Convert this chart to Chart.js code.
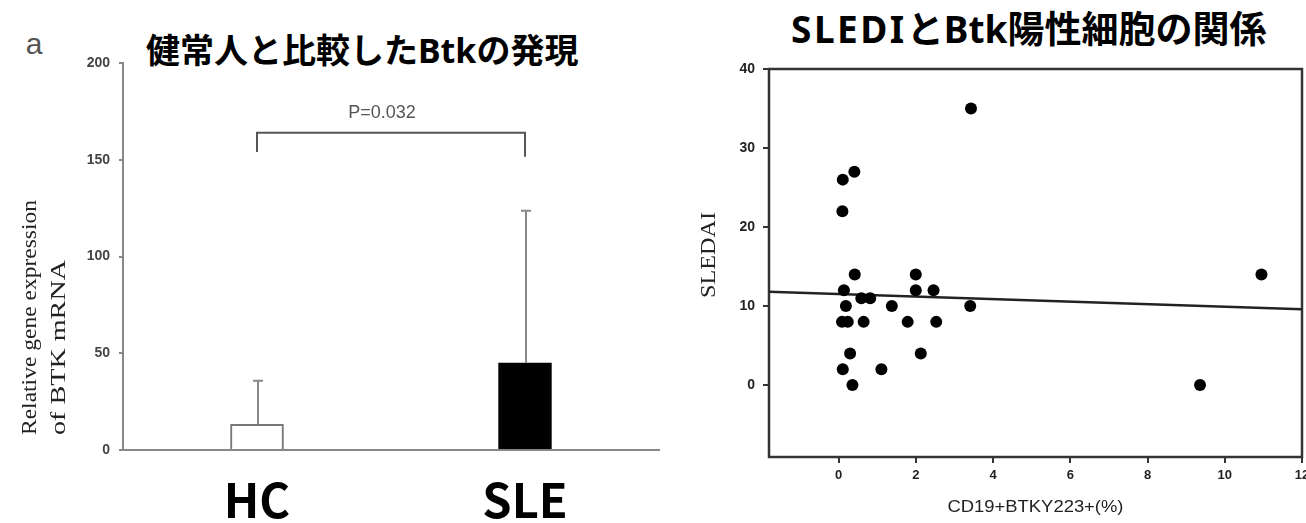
<!DOCTYPE html>
<html>
<head>
<meta charset="utf-8">
<script src="https://cdn.jsdelivr.net/npm/chart.js@4.4.1/dist/chart.umd.min.js"></script>
<style>
  html, body { margin: 0; padding: 0; background: #fff; overflow: hidden; }
  #wrap { position: relative; width: 1306px; height: 523px; overflow: hidden; background: #fff; }
  .ttl { position: absolute; font-family: "Noto Sans", "Noto Sans CJK JP", sans-serif; font-weight: 700;
         color: #000; white-space: nowrap; line-height: 1; transform: translateY(-50%); }
  .ttl .lat { letter-spacing: 2.5px; }
  .tag { position: absolute; font-family: "Liberation Sans", Arial, sans-serif; color: #555;
         line-height: 1; transform: translate(-50%, -50%); }
  canvas { position: absolute; top: 0; }
  #cA { left: 0; }
  #cB { left: 690px; }
</style>
</head>
<body>
<div id="wrap">
  <div class="tag" style="left:34px; top:44px; font-size:30px;">a</div>
  <div class="ttl" style="left:146px; top:50px; font-size:34px;">健常人と比較したBtkの発現</div>
  <div class="ttl" style="left:791px; top:28px; font-size:37px;"><span class="lat">SLEDI</span>とBtk陽性細胞の関係</div>
  <canvas id="cA" width="680" height="523"></canvas>
  <canvas id="cB" width="660" height="523"></canvas>
</div>
<script>
// ---- Panel a: BTK mRNA expression, healthy controls vs SLE ----
const groups = ['HC', 'SLE'];
const meanExpr = [13.3, 45.1];
const sdExpr = [22.5, 78.5];
const exprTicks = [0, 50, 100, 150, 200];
const pLabel = 'P=0.032';
const bracketTop = 164;
const bracketLegs = [154, 151.5];
const exprTitle = ['Relative gene expression', 'of BTK mRNA'];

// ---- Panel b: SLEDAI vs CD19+BTKY223+ cells ----
const btkPct = [3.43, 0.11, 0.41, 0.10, 0.42, 0.14, 0.19, 0.09, 0.24, 0.65, 0.59, 0.82, 0.30,
                0.11, 0.36, 1.11, 1.38, 1.79, 2.00, 2.00, 2.46, 2.53, 2.13, 3.41, 10.95, 9.36];
const sledai = [35, 26, 27, 22, 14, 12, 10, 8, 8, 8, 11, 11, 4,
                2, 0, 2, 10, 8, 14, 12, 12, 8, 4, 10, 14, 0];
const fitX = [-1.8, 12];
const fitY = [11.8, 9.6];
const pctTicks = [0, 2, 4, 6, 8, 10, 12];
const sledaiTicks = [0, 10, 20, 30, 40];

Chart.defaults.font.family = '"Liberation Sans", Arial, sans-serif';
Chart.defaults.animation = false;

// rotated text stretched along its reading direction to a set length
function vText(ctx, text, cx, yStart, font, len, color) {
  ctx.save();
  ctx.font = font;
  const w = ctx.measureText(text).width;
  ctx.translate(cx, yStart);
  ctx.rotate(-Math.PI / 2);
  ctx.scale(len / w, 1);
  ctx.fillStyle = color;
  ctx.textAlign = 'left';
  ctx.textBaseline = 'middle';
  ctx.fillText(text, 0, 0);
  ctx.restore();
}

const panelAExtras = {
  id: 'panelAExtras',
  afterDatasetsDraw(chart) {
    const { ctx, scales: { x, y } } = chart;
    ctx.save();
    // error bars (mean + SD)
    ctx.strokeStyle = '#888';
    ctx.lineWidth = 2;
    meanExpr.forEach((m, i) => {
      const px = x.getPixelForValue(i) + 1;
      const y0 = y.getPixelForValue(m);
      const y1 = y.getPixelForValue(m + sdExpr[i]);
      ctx.beginPath();
      ctx.moveTo(px, y0);
      ctx.lineTo(px, y1);
      ctx.moveTo(px - 5, y1);
      ctx.lineTo(px + 5, y1);
      ctx.stroke();
    });
    // significance bracket
    const xl = x.getPixelForValue(0), xr = x.getPixelForValue(1);
    ctx.strokeStyle = '#555';
    ctx.beginPath();
    ctx.moveTo(xl, y.getPixelForValue(bracketLegs[0]));
    ctx.lineTo(xl, y.getPixelForValue(bracketTop));
    ctx.lineTo(xr, y.getPixelForValue(bracketTop));
    ctx.lineTo(xr, y.getPixelForValue(bracketLegs[1]));
    ctx.stroke();
    ctx.fillStyle = '#555';
    ctx.font = '18px "Liberation Sans", Arial, sans-serif';
    ctx.textAlign = 'center';
    ctx.textBaseline = 'middle';
    ctx.fillText(pLabel, (xl + xr) / 2 - 9, y.getPixelForValue(174));
    ctx.restore();
    // axis title, two lines
    vText(ctx, exprTitle[0], 30, 435, '21px "Liberation Serif", "Times New Roman", serif', 235, '#222');
    vText(ctx, exprTitle[1], 59, 435, '21px "Liberation Serif", "Times New Roman", serif', 175, '#222');
  }
};

new Chart(document.getElementById('cA'), {
  type: 'bar',
  data: {
    labels: groups,
    datasets: [{
      data: meanExpr,
      backgroundColor: ['#ffffff', '#000000'],
      borderColor: ['#777777', '#000000'],
      borderWidth: 2,
      barThickness: 53
    }]
  },
  options: {
    responsive: false,
    layout: { padding: { top: 63, right: 21, left: 0, bottom: 0 } },
    plugins: { legend: { display: false }, tooltip: { enabled: false } },
    scales: {
      x: {
        type: 'category',
        offset: true,
        grid: { display: false },
        border: { display: true, color: '#888', width: 2 },
        ticks: { color: '#000', padding: 14,
                 font: { family: '"Noto Sans CJK JP", "Noto Sans", sans-serif', size: 47, weight: 'bold' } },
        afterFit(s) { s.height = 73; }
      },
      y: {
        min: 0, max: 200,
        afterBuildTicks(s) { s.ticks = exprTicks.map(v => ({ value: v })); },
        grid: { drawOnChartArea: false, drawTicks: true, tickLength: 4, color: '#888', lineWidth: 2 },
        border: { display: true, color: '#888', width: 2 },
        ticks: { color: '#444', padding: 9, font: { size: 14, weight: 'bold' } },
        afterFit(s) { s.width = 123; }
      }
    }
  },
  plugins: [panelAExtras]
});

const panelBExtras = {
  id: 'panelBExtras',
  beforeDatasetsDraw(chart) {
    const { ctx, chartArea: a } = chart;
    ctx.save();
    ctx.strokeStyle = '#333';
    ctx.lineWidth = 2.5;
    ctx.strokeRect(a.left, a.top, a.right - a.left, a.bottom - a.top);
    ctx.restore();
  },
  afterDraw(chart) {
    const { ctx, chartArea: a } = chart;
    vText(ctx, 'SLEDAI', 19, 298, '21px "Liberation Serif", "Times New Roman", serif', 86, '#222');
    ctx.save();
    ctx.font = '17px "Liberation Sans", Arial, sans-serif';
    const t = 'CD19+BTKY223+(%)';
    const w = ctx.measureText(t).width;
    ctx.translate((a.left + a.right) / 2, 507);
    ctx.scale(176 / w, 1);
    ctx.fillStyle = '#222';
    ctx.textAlign = 'center';
    ctx.textBaseline = 'middle';
    ctx.fillText(t, 0, 0);
    ctx.restore();
  }
};

new Chart(document.getElementById('cB'), {
  type: 'scatter',
  data: {
    datasets: [
      {
        data: btkPct.map((v, i) => ({ x: v, y: sledai[i] })),
        backgroundColor: '#000',
        borderWidth: 0,
        pointRadius: 6
      },
      {
        data: fitX.map((v, i) => ({ x: v, y: fitY[i] })),
        showLine: true,
        borderColor: '#222',
        borderWidth: 2.5,
        pointRadius: 0
      }
    ]
  },
  options: {
    responsive: false,
    layout: { padding: { top: 69, right: 48, left: 0, bottom: 0 } },
    plugins: { legend: { display: false }, tooltip: { enabled: false } },
    scales: {
      x: {
        type: 'linear', min: -1.8, max: 12,
        afterBuildTicks(s) { s.ticks = pctTicks.map(v => ({ value: v })); },
        grid: { drawOnChartArea: false, drawTicks: true, tickLength: 6, color: '#333', lineWidth: 2 },
        border: { display: false },
        ticks: { color: '#222', padding: 5, font: { size: 13, weight: 'bold' } },
        afterFit(s) { s.height = 66; }
      },
      y: {
        type: 'linear', min: -9.1, max: 40,
        afterBuildTicks(s) { s.ticks = sledaiTicks.map(v => ({ value: v })); },
        grid: { drawOnChartArea: false, drawTicks: true, tickLength: 6, color: '#333', lineWidth: 2 },
        border: { display: false },
        ticks: { color: '#222', padding: 8, font: { size: 14, weight: 'bold' } },
        afterFit(s) { s.width = 79; }
      }
    }
  },
  plugins: [panelBExtras]
});
</script>
</body>
</html>
